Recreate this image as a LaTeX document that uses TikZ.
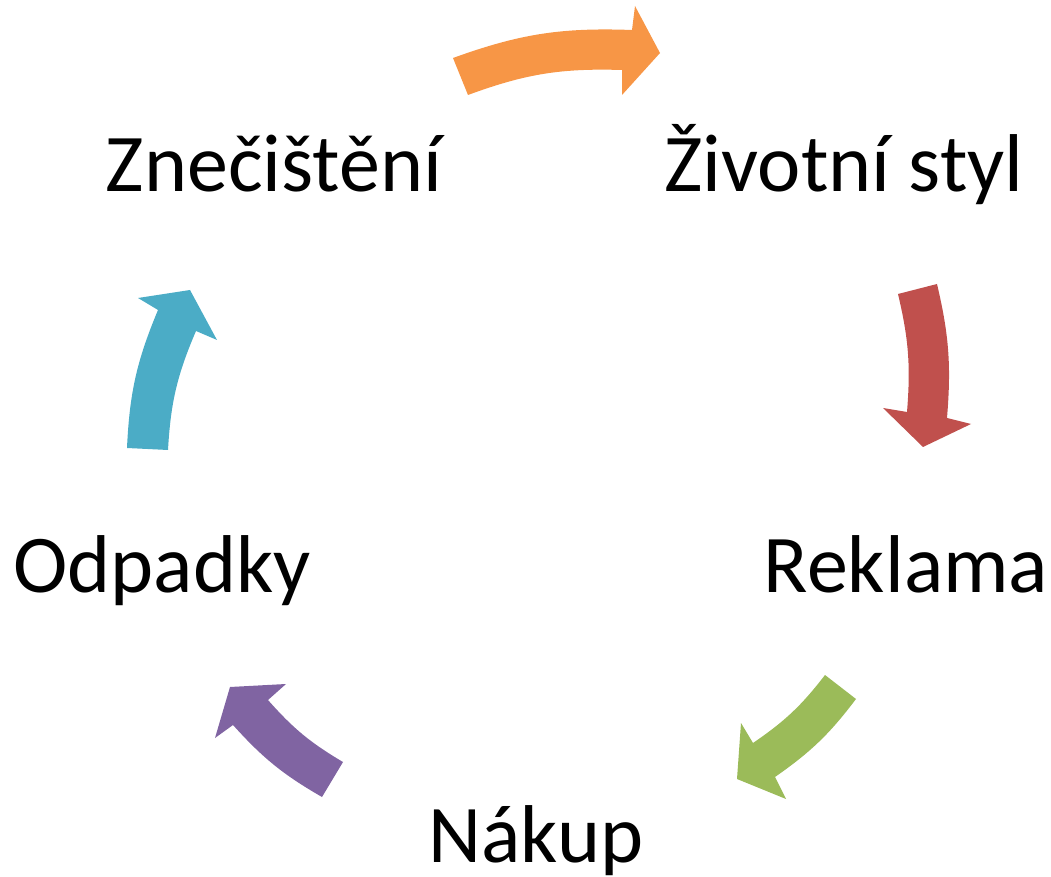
\documentclass[tikz,border=0pt]{standalone}
\usepackage{fontspec}
\setmainfont{Carlito}
\definecolor{aorange}{HTML}{F79646}
\definecolor{ared}{HTML}{C0504D}
\definecolor{agreen}{HTML}{9BBB59}
\definecolor{apurple}{HTML}{8064A2}
\definecolor{ablue}{HTML}{4BACC6}
\begin{document}
\begin{tikzpicture}[x=0.75pt,y=-0.75pt]
\tikzset{
  lbl/.style={anchor=base,inner sep=0pt,font=\fontsize{61.5}{72}\selectfont},
  blockarrow/.style={draw=none,fill=#1}
}
\useasboundingbox (0,0) rectangle (1051,877);

% labels
\node[lbl] (znec) at (274,192) {Znečištění};
\node[lbl] (ziv)  at (844,192) {Životní styl};
\node[lbl] (rek)  at (906,592) {Reklama};
\node[lbl] (nak)  at (536,862) {Nákup};
\node[lbl] (odp)  at (162,592) {Odpadky};

% orange: Znečištění -> Životní styl
\fill[blockarrow=aorange] (453,58) to[bend left=11] (632,30) -- (635,6) -- (660,53)
  -- (622,95) -- (622,70) to[bend right=11] (468,95) -- cycle;
% red: Životní styl -> Reklama
\fill[blockarrow=ared] (937,284) to[bend left=9] (947,418) -- (971,424) -- (923,447)
  -- (883,408) -- (907,412) to[bend right=9] (898,294) -- cycle;
% green: Reklama -> Nákup
\fill[blockarrow=agreen] (856,699) to[bend left=9] (775,777) -- (786,799) -- (737,779)
  -- (741,723) -- (753,743) to[bend right=9] (825,675) -- cycle;
% purple: Nákup -> Odpadky
\fill[blockarrow=apurple] (322,797) to[bend left=9] (233,725) -- (215,738) -- (230,687)
  -- (286,684) -- (268,700) to[bend right=9] (343,762) -- cycle;
% blue: Odpadky -> Znečištění
\fill[blockarrow=ablue] (127,448) to[bend left=10] (158,310) -- (138,298) -- (190,290)
  -- (217,340) -- (196,331) to[bend right=10] (168,450) -- cycle;
\end{tikzpicture}
\end{document}
